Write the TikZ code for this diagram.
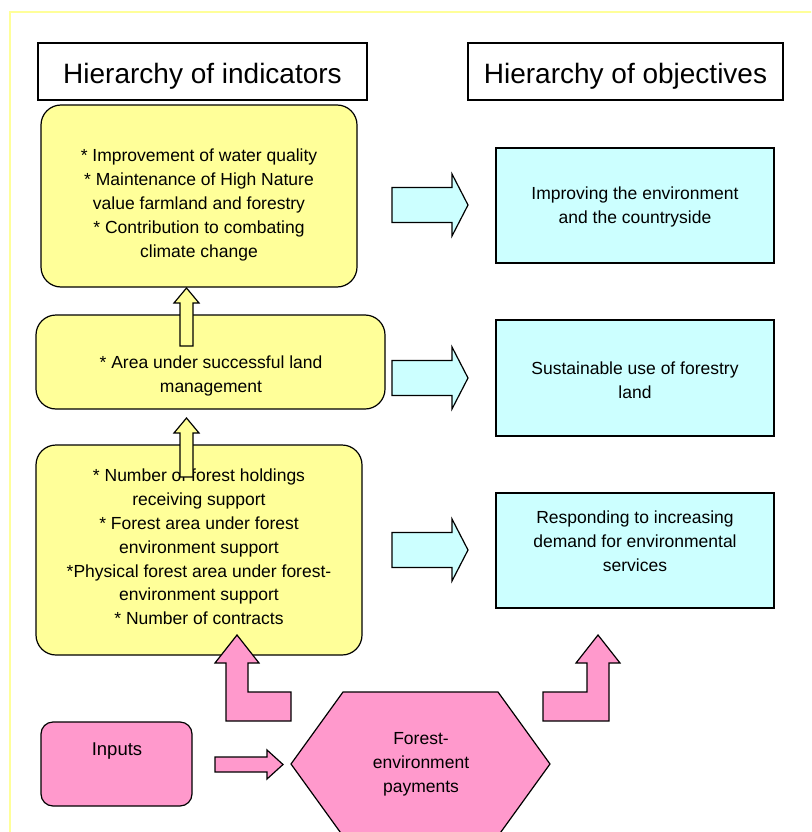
\documentclass[tikz,border=0pt]{standalone}
\usepackage{fontspec}
\setmainfont{Liberation Sans}
\usetikzlibrary{positioning}
\definecolor{indyellow}{HTML}{FFFF99}
\definecolor{objcyan}{HTML}{CCFFFF}
\definecolor{inpink}{HTML}{FF99CC}
\tikzset{
  ybox/.style={draw,line width=1.2pt,fill=indyellow,rounded corners=20pt,inner sep=0pt},
  cbox/.style={draw,line width=1.2pt,fill=objcyan,inner sep=0pt},
  pbox/.style={draw,line width=1.2pt,fill=inpink,rounded corners=12pt,inner sep=0pt},
  tbox/.style={draw,line width=1.2pt,fill=white,inner sep=0pt},
  ttl/.style={font=\fontsize{28}{30}\selectfont,inner sep=0pt},
  txt/.style={align=center,font=\fontsize{17.5}{23.8}\selectfont,inner sep=0pt},
  blk/.style={draw,line width=1.2pt,line join=miter},
}

\begin{document}
\begin{tikzpicture}[x=1pt,y=-1pt]
  \useasboundingbox (0,0) rectangle (811,832);
  \clip (0,0) rectangle (811,832);
  \draw[indyellow,line width=1.5pt] (10,12) rectangle (830,850);

  % titles
  \node[tbox,minimum width=329pt,minimum height=57pt] (tind) at (202.5,71.5) {};
  \node[ttl] (tindt) at (202.5,76) {Hierarchy of indicators};
  \node[tbox,minimum width=315pt,minimum height=57pt] (tobj) at (625.5,71.5) {};
  \node[ttl] (tobjt) at (625.5,76) {Hierarchy of objectives};

  % indicators
  \node[ybox,minimum width=316pt,minimum height=182pt] (ind1) at (199,196) {};
  \node[txt] (ind1t) at (199,205) {* Improvement of water quality\\* Maintenance of High Nature\\value farmland and forestry\\* Contribution to combating\\climate change};
  \node[ybox,minimum width=349pt,minimum height=94pt] (ind2) at (210.5,362) {};
  \node[txt] (ind2t) at (211,376) {* Area under successful land\\management};
  \node[ybox,minimum width=326pt,minimum height=210pt] (ind3) at (199,550) {};
  \node[txt] (ind3t) at (199,547) {* Number of forest holdings\\receiving support\\* Forest area under forest\\environment support\\*Physical forest area under forest-\\environment support\\* Number of contracts};

  % up arrows
  \draw[blk,fill=indyellow,shift={(186.5,288)}] (0,0) -- (12.5,15) -- (6.5,15) -- (6.5,58) -- (-6.5,58) -- (-6.5,15) -- (-12.5,15) -- cycle;
  \draw[blk,fill=indyellow,shift={(186.5,418)}] (0,0) -- (12.5,15) -- (6.5,15) -- (6.5,59) -- (-6.5,59) -- (-6.5,15) -- (-12.5,15) -- cycle;

  % objectives
  \node[cbox,minimum width=278pt,minimum height=115pt] (obj1) at (635,205.5) {};
  \node[txt] (obj1t) at (635,207) {Improving the environment\\and the countryside};
  \node[cbox,minimum width=278pt,minimum height=116pt] (obj2) at (635,378) {};
  \node[txt] (obj2t) at (635,380) {Sustainable use of forestry\\land};
  \node[cbox,minimum width=278pt,minimum height=115pt] (obj3) at (635,550.5) {};
  \node[txt] (obj3t) at (635,541) {Responding to increasing\\demand for environmental\\services};

  % right arrows
  \foreach \cy in {205,378,550}
    \draw[blk,fill=objcyan,shift={(392,\cy)}] (0,-17.5) -- (60,-17.5) -- (60,-31) -- (76,0) -- (60,31) -- (60,17.5) -- (0,17.5) -- cycle;

  % inputs and payments
  \node[pbox,minimum width=151pt,minimum height=84pt] (inp) at (116.5,764) {};
  \node[txt,font=\fontsize{18.5}{22}\selectfont] (inpt) at (117,751) {Inputs};
  \draw[blk,fill=inpink] (215,757) -- (267,757) -- (267,750) -- (283,764.5) -- (267,779) -- (267,772) -- (215,772) -- cycle;
  \draw[blk,fill=inpink] (291,764) -- (343,692) -- (498,692) -- (550,764) -- (498,836) -- (343,836) -- cycle;
  \node[txt] (pay) at (421,764) {Forest-\\environment\\payments};

  % bent arrows
  \draw[blk,fill=inpink] (226,663) -- (215,663) -- (237,635) -- (259,663) -- (248,663) -- (248,692) -- (291,692) -- (291,721) -- (226,721) -- cycle;
  \draw[blk,fill=inpink] (587,663) -- (576,663) -- (598,635) -- (620,663) -- (609,663) -- (609,721) -- (543,721) -- (543,692) -- (587,692) -- cycle;
\end{tikzpicture}
\end{document}
